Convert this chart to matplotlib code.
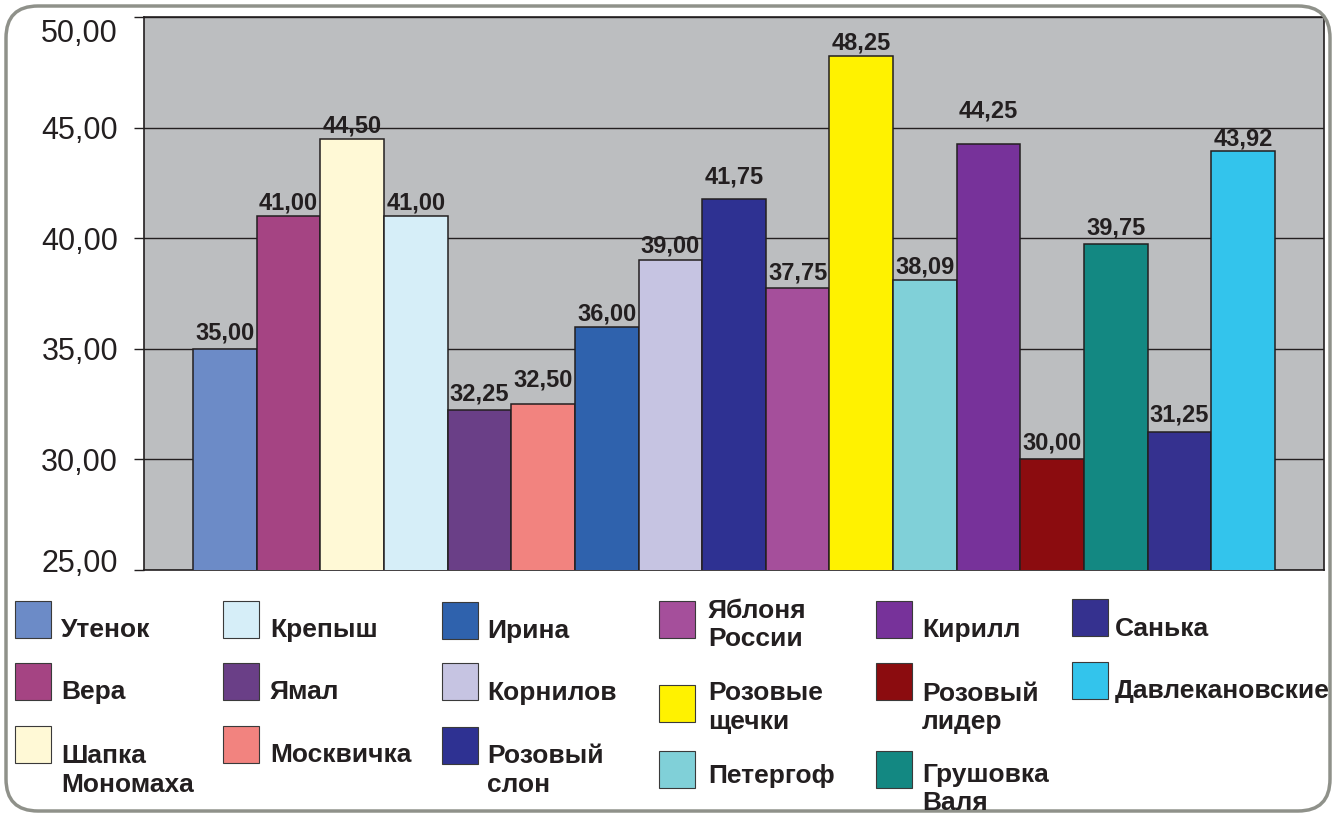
import matplotlib.pyplot as plt
from matplotlib.patches import FancyBboxPatch, Rectangle
from matplotlib.transforms import ScaledTranslation

plt.rcParams['font.family'] = ['Liberation Sans', 'DejaVu Sans']

varieties = ['Утенок', 'Вера', 'Шапка\nМономаха', 'Крепыш', 'Ямал', 'Москвичка',
             'Ирина', 'Корнилов', 'Розовый\nслон', 'Яблоня\nРоссии', 'Розовые\nщечки',
             'Петергоф', 'Кирилл', 'Розовый\nлидер', 'Грушовка\nВаля', 'Санька',
             'Давлекановские']
values = [35.00, 41.00, 44.50, 41.00, 32.25, 32.50, 36.00, 39.00, 41.75, 37.75,
          48.25, 38.09, 44.25, 30.00, 39.75, 31.25, 43.92]
colors = ['#6c8bc7', '#a54483', '#fff9d6', '#d6eef8', '#6a3f87', '#f2837f',
          '#2f62ad', '#c6c4e2', '#2e3192', '#a54f9b', '#fff200', '#80d0d8',
          '#77329a', '#8b0c0f', '#138882', '#35318f', '#33c4ec']

# gap (px) between bar top and label baseline, a few labels sit higher
label_gap = [9, 7, 6, 7, 9, 18, 6, 8, 16, 8, 6, 7, 27, 10, 9, 10, 6]

W, H = 1341, 816
dark = '#231f20'


def fx(x):
    return x / W


def fy(y):
    return 1 - y / H


fig = plt.figure(figsize=(W / 100, H / 100), dpi=100)

# rounded frame around everything
frame = FancyBboxPatch((fx(36), fy(781)), fx(1300 - 36), fy(36) - fy(781),
                       boxstyle='round', transform=fig.transFigure, fc='none',
                       ec='#8f918a', lw=2.5, mutation_aspect=W / H)
frame.set_boxstyle('round', pad=fx(30), rounding_size=fx(32))
fig.patches.append(frame)

ax = fig.add_axes([fx(144), fy(570), fx(1324 - 144), fy(17) - fy(570)])
ax.set_facecolor('#bcbec0')

x = range(len(values))
ax.bar(x, values, width=1.0, color=colors, edgecolor=dark, linewidth=1.1, zorder=3)

for i, v in enumerate(values):
    ax.annotate(f'{v:.2f}'.replace('.', ','), (i, v), xytext=(0, label_gap[i] * 0.72),
                textcoords='offset points', ha='center', va='baseline',
                fontsize=17, fontweight='bold', color=dark, zorder=4)

ax.set_ylim(25, 50)
ax.set_xlim(-0.5 - 0.77, len(values) - 0.5 + 0.77)
yt = [25, 30, 35, 40, 45, 50]
ax.set_yticks(yt)
ax.set_yticklabels([f'{t:.2f}'.replace('.', ',') for t in yt], fontsize=22, color=dark)
ax.tick_params(axis='y', length=7.2, width=1, color=dark, pad=11.5)
ax.tick_params(axis='x', bottom=False, labelbottom=False)
ax.grid(axis='y', color=dark, linewidth=1, zorder=0)
for s in ax.spines.values():
    s.set_color(dark)
    s.set_linewidth(1.2)

# end labels are pulled inward as in the original
labs = ax.get_yticklabels()
labs[0].set_transform(labs[0].get_transform() + ScaledTranslation(0, 10 / 100, fig.dpi_scale_trans))
labs[-1].set_transform(labs[-1].get_transform() + ScaledTranslation(0, -14 / 100, fig.dpi_scale_trans))

# legend drawn by hand, column by column
patch_x = [15, 223, 442, 659, 876, 1072]
text_x = [61, 270, 487, 708, 922, 1115]
patch_top = [[601, 663, 726], [601, 663, 726], [602, 663, 727],
             [601, 685, 751], [601, 663, 751], [599, 662]]
text_base = [[637, 699, 763], [637, 699, 762], [638, 700, 763],
             [618, 700, 783], [637, 701, 782], [636, 698]]

k = 0
for c in range(6):
    for r in range(len(patch_top[c])):
        fig.patches.append(Rectangle((fx(patch_x[c]), fy(patch_top[c][r] + 37)),
                                     fx(36), fy(0) - fy(37), transform=fig.transFigure,
                                     fc=colors[k], ec='#3a3a3a', lw=0.8))
        for j, line in enumerate(varieties[k].split('\n')):
            fig.text(fx(text_x[c]), fy(text_base[c][r] + 28.5 * j), line, fontsize=19,
                     fontweight='bold', color=dark, ha='left', va='baseline')
        k += 1

fig.savefig('out.png', dpi=100)
